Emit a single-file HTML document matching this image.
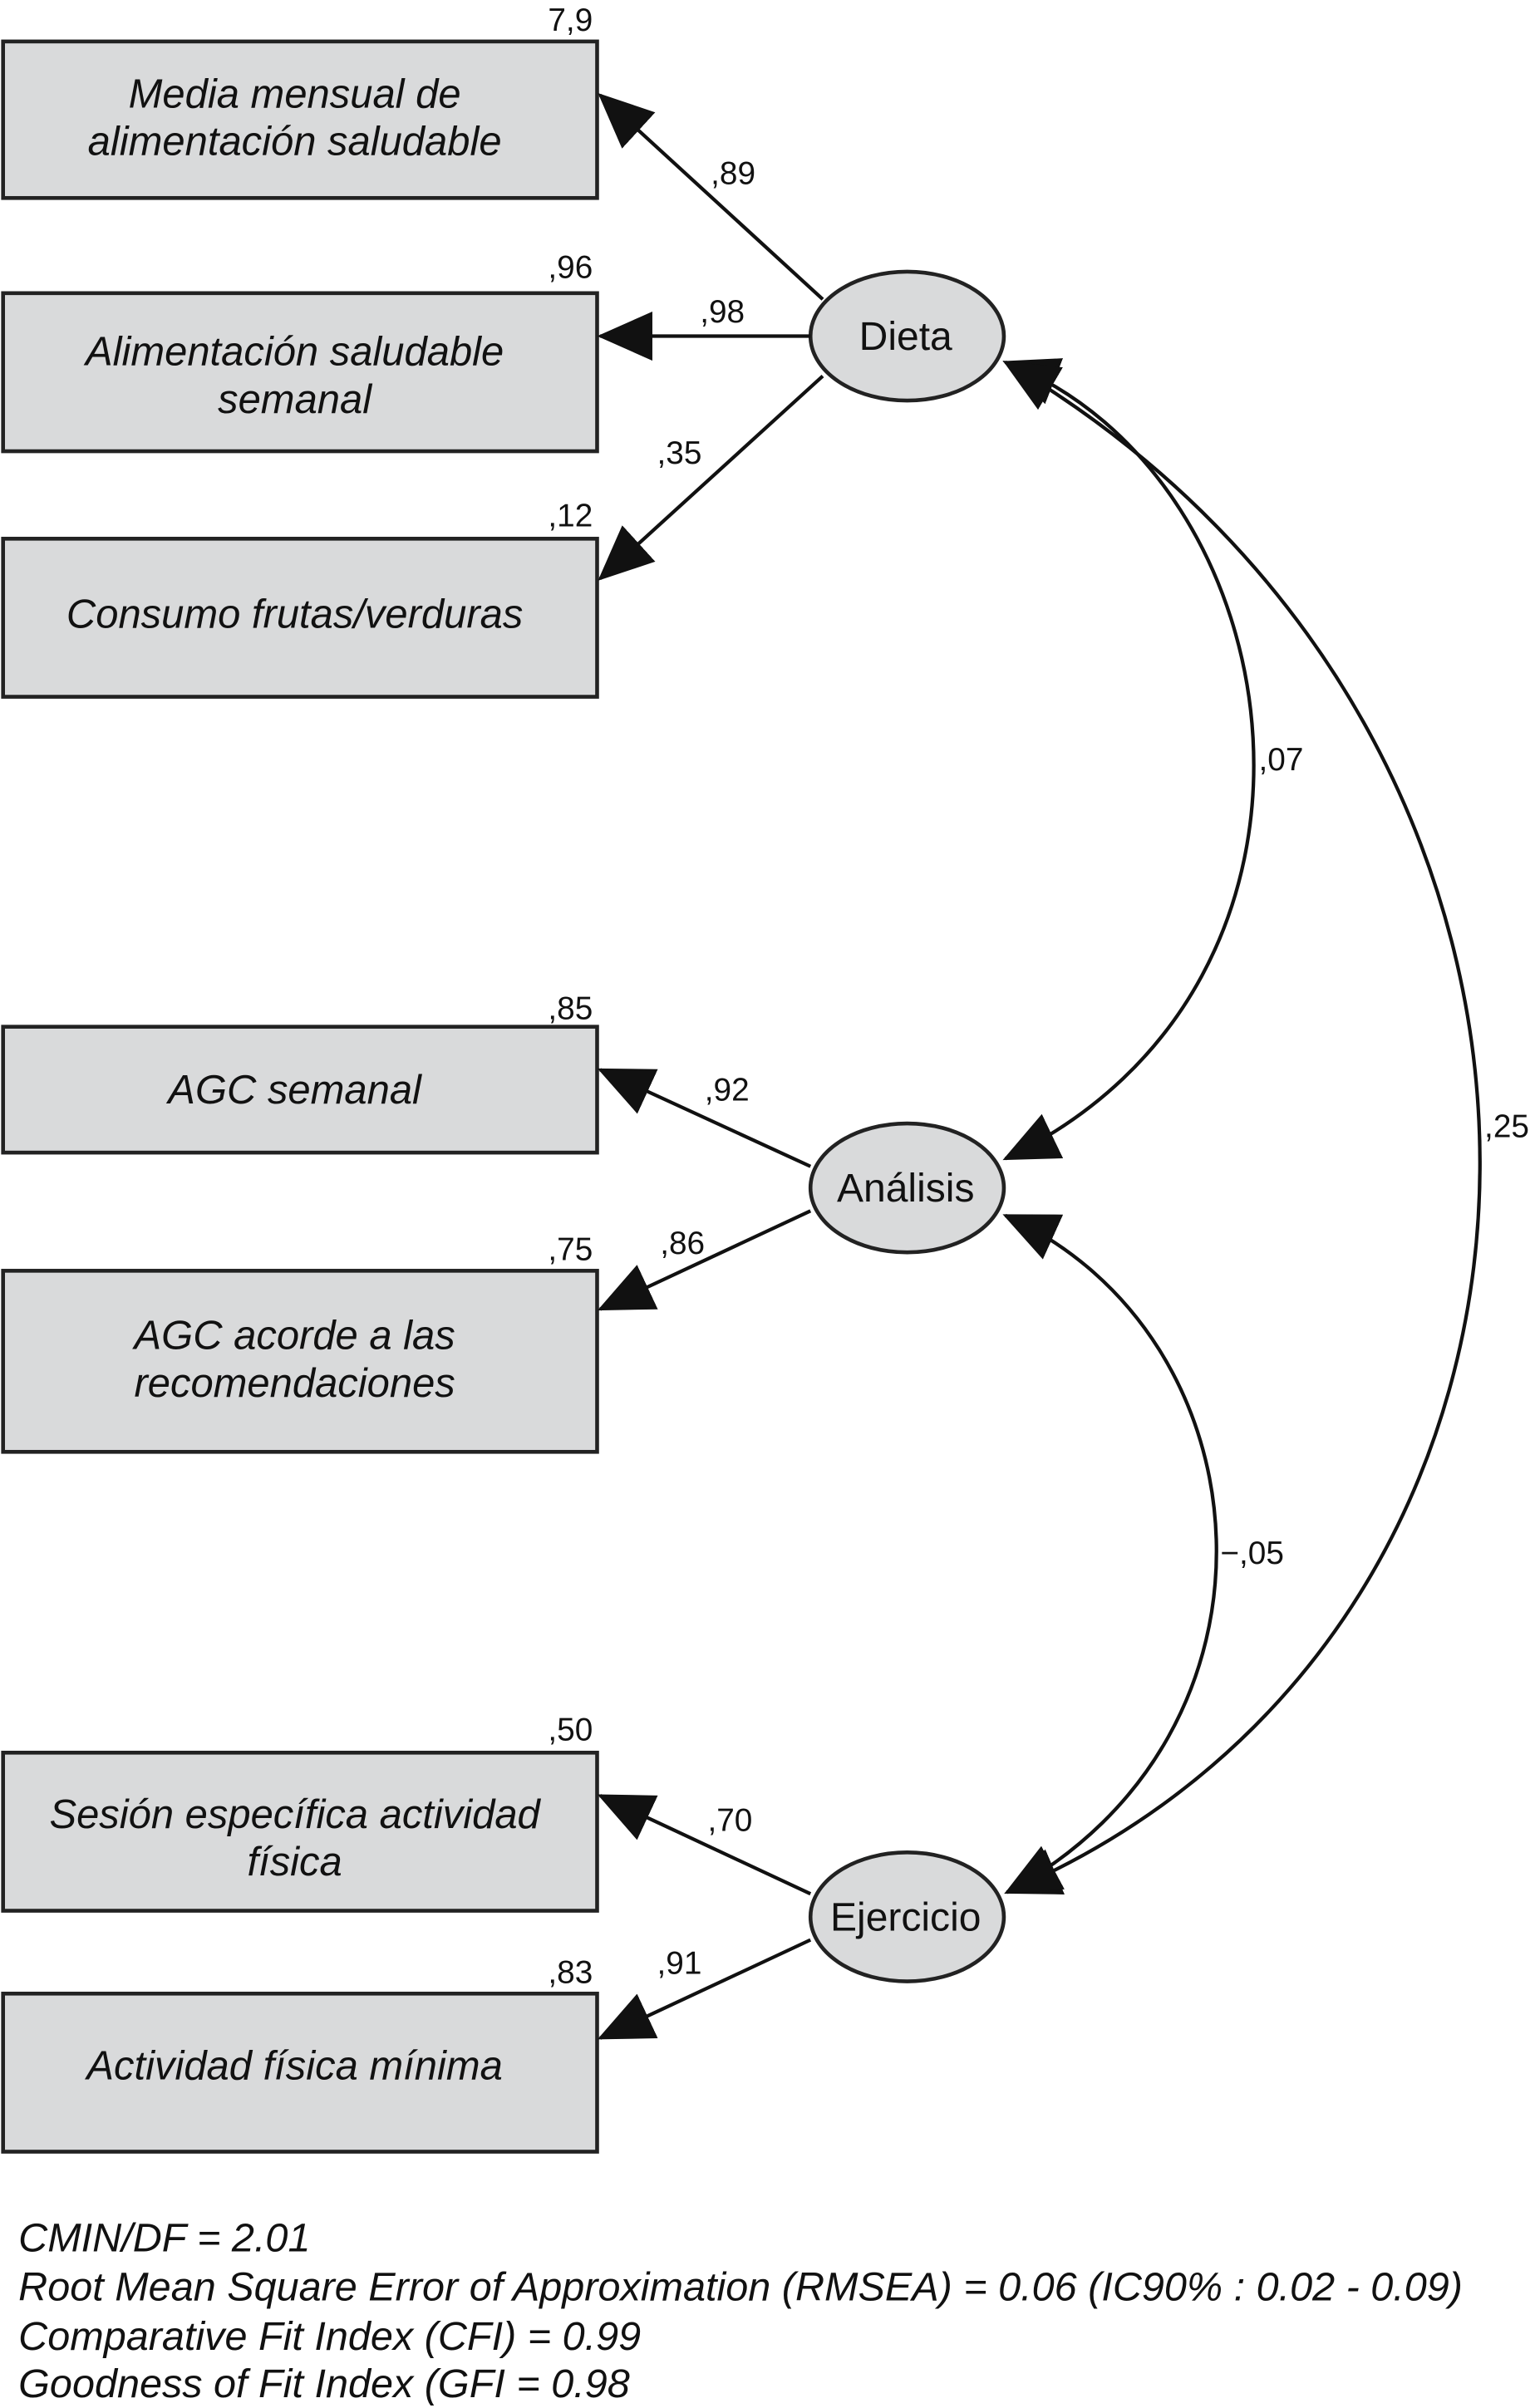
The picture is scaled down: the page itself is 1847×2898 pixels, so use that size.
<!DOCTYPE html>
<html><head><meta charset="utf-8"><style>html,body{margin:0;padding:0;background:#fff}svg{display:block}</style></head>
<body>
<svg width="1847" height="2898" viewBox="0 0 1000 1569" xmlns="http://www.w3.org/2000/svg">
<defs>
<marker id="a" viewBox="0 0 36 32" refX="34" refY="16" markerWidth="36" markerHeight="32" markerUnits="userSpaceOnUse" orient="auto-start-reverse">
<path d="M0,0 L36,16 L0,32 Z" fill="#111"/>
</marker>
</defs>
<g fill="#d9dadb" stroke="#222" stroke-width="2.5">
<rect x="2" y="27" width="387" height="102"/>
<rect x="2" y="191" width="387" height="103"/>
<rect x="2" y="351" width="387" height="103"/>
<rect x="2" y="669" width="387" height="82"/>
<rect x="2" y="828" width="387" height="118"/>
<rect x="2" y="1142" width="387" height="103"/>
<rect x="2" y="1299" width="387" height="103"/>
<ellipse cx="591" cy="219" rx="63" ry="42"/>
<ellipse cx="591" cy="774" rx="63" ry="42"/>
<ellipse cx="591" cy="1249" rx="63" ry="42"/>
</g>
<g stroke="#111" stroke-width="2.3" fill="none" marker-end="url(#a)">
<line x1="536" y1="195" x2="391" y2="62"/>
<line x1="528" y1="219" x2="391" y2="219"/>
<line x1="536" y1="245" x2="391" y2="377"/>
<line x1="528" y1="760" x2="391" y2="697"/>
<line x1="528" y1="789" x2="391" y2="853"/>
<line x1="528" y1="1234" x2="391" y2="1170"/>
<line x1="528" y1="1264" x2="391" y2="1328"/>
</g>
<g stroke="#111" stroke-width="2.3" fill="none" marker-start="url(#a)" marker-end="url(#a)">
<path d="M655,236 C845,310 895,640 655,755"/>
<path d="M655,236 C1072,480 1062,1060 656,1233"/>
<path d="M655,792 C828,870 848,1130 656,1233"/>
</g>
<g font-family="Liberation Sans, sans-serif" font-size="21" fill="#111">
<text x="357" y="20">7,9</text>
<text x="463" y="120">,89</text>
<text x="357" y="181">,96</text>
<text x="456" y="210">,98</text>
<text x="428" y="302">,35</text>
<text x="357" y="343">,12</text>
<text x="820" y="502">,07</text>
<text x="357" y="664">,85</text>
<text x="459" y="717">,92</text>
<text x="967" y="741">,25</text>
<text x="357" y="821">,75</text>
<text x="430" y="817">,86</text>
<text x="795" y="1019">−,05</text>
<text x="357" y="1134">,50</text>
<text x="461" y="1193">,70</text>
<text x="357" y="1292">,83</text>
<text x="428" y="1286">,91</text>
</g>
<g font-family="Liberation Sans, sans-serif" font-size="26" fill="#111" text-anchor="middle">
<text x="590" y="228">Dieta</text>
<text x="590" y="783">Análisis</text>
<text x="590" y="1258">Ejercicio</text>
</g>
<g font-family="Liberation Sans, sans-serif" font-size="26.5" font-style="italic" fill="#111" text-anchor="middle">
<text x="192" y="70">Media mensual de</text>
<text x="192" y="101">alimentación saludable</text>
<text x="192" y="238">Alimentación saludable</text>
<text x="192" y="269">semanal</text>
<text x="192" y="409">Consumo frutas/verduras</text>
<text x="192" y="719">AGC semanal</text>
<text x="192" y="879">AGC acorde a las</text>
<text x="192" y="910">recomendaciones</text>
<text x="192" y="1191">Sesión específica actividad</text>
<text x="192" y="1222">física</text>
<text x="192" y="1355">Actividad física mínima</text>
</g>
<g font-family="Liberation Sans, sans-serif" font-size="26.3" font-style="italic" fill="#111">
<text x="12" y="1467">CMIN/DF = 2.01</text>
<text x="12" y="1499">Root Mean Square Error of Approximation (RMSEA) = 0.06 (IC90% : 0.02 - 0.09)</text>
<text x="12" y="1531">Comparative Fit Index (CFI) = 0.99</text>
<text x="12" y="1562">Goodness of Fit Index (GFI = 0.98</text>
</g>
</svg>
</body></html>
